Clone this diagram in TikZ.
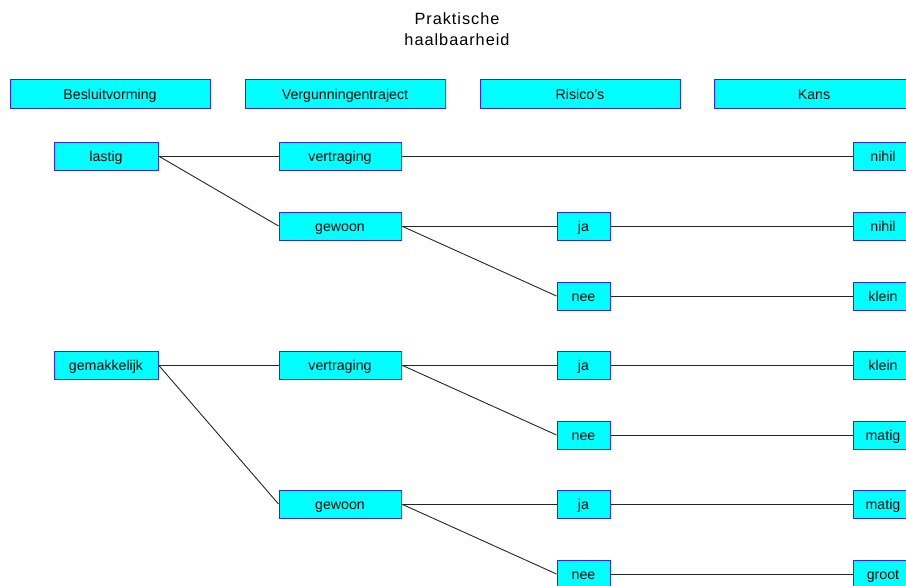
\documentclass[tikz,border=0pt]{standalone}
\usepackage{fontspec}
\setmainfont{Liberation Sans}
\newfontfamily\titlefont[LetterSpace=6]{Liberation Sans}
\begin{document}
\begin{tikzpicture}[x=1pt,y=-1pt,
  box/.style={draw=boxblue, fill=boxfill, line width=1pt, inner sep=0pt,
    minimum height=28pt, text height=10pt, text depth=0pt,
    font=\fontsize{14.2}{16}\selectfont, anchor=center},
  head/.style={box, minimum width=200pt, minimum height=29pt},
  colA/.style={box, minimum width=104pt},
  colB/.style={box, minimum width=122pt},
  colC/.style={box, minimum width=53pt},
  colD/.style={box, minimum width=60pt},
  link/.style={draw=black!85, line width=0.9pt}]
\definecolor{boxblue}{RGB}{40,40,255}
\definecolor{boxfill}{RGB}{0,255,255}
\useasboundingbox (0,0) rectangle (906,586);
\clip (0,0) rectangle (906,586);

% title
\node[font=\titlefont\fontsize{16.3}{21}\selectfont, align=center] (title) at (457,29.5)
  {Praktische\\haalbaarheid};

% column headers
\node[head] (h1) at (110,94.5) {Besluitvorming};
\node[head] (h2) at (345,94.5) {Vergunningentraject};
\node[head] (h3) at (580,94.5) {Risico's};
\node[head] (h4) at (814,94.5) {Kans};

% decision tree
\node[colA] (a1) at (106,156) {lastig};
\node[colA] (a2) at (106,365) {gemakkelijk};

\node[colB] (b1) at (340,156) {vertraging};
\node[colB] (b2) at (340,226) {gewoon};
\node[colB] (b3) at (340,365) {vertraging};
\node[colB] (b4) at (340,504) {gewoon};

\node[colC] (c2) at (583.5,226) {ja};
\node[colC] (c3) at (583.5,296) {nee};
\node[colC] (c4) at (583.5,365) {ja};
\node[colC] (c5) at (583.5,435) {nee};
\node[colC] (c6) at (583.5,504) {ja};
\node[colC] (c7) at (583.5,574) {nee};

\node[colD] (d1) at (883,156) {nihil};
\node[colD] (d2) at (883,226) {nihil};
\node[colD] (d3) at (883,296) {klein};
\node[colD] (d4) at (883,365) {klein};
\node[colD] (d5) at (883,435) {matig};
\node[colD] (d6) at (883,504) {matig};
\node[colD] (d7) at (883,574) {groot};

% connectors
\draw[link] (a1.east) -- (b1.west);
\draw[link] (a1.east) -- (b2.west);
\draw[link] (a2.east) -- (b3.west);
\draw[link] (a2.east) -- (b4.west);

\draw[link] (b1.east) -- (d1.west);
\draw[link] (b2.east) -- (c2.west);
\draw[link] (b2.east) -- (c3.west);
\draw[link] (b3.east) -- (c4.west);
\draw[link] (b3.east) -- (c5.west);
\draw[link] (b4.east) -- (c6.west);
\draw[link] (b4.east) -- (c7.west);

\draw[link] (c2.east) -- (d2.west);
\draw[link] (c3.east) -- (d3.west);
\draw[link] (c4.east) -- (d4.west);
\draw[link] (c5.east) -- (d5.west);
\draw[link] (c6.east) -- (d6.west);
\draw[link] (c7.east) -- (d7.west);
\end{tikzpicture}
\end{document}
